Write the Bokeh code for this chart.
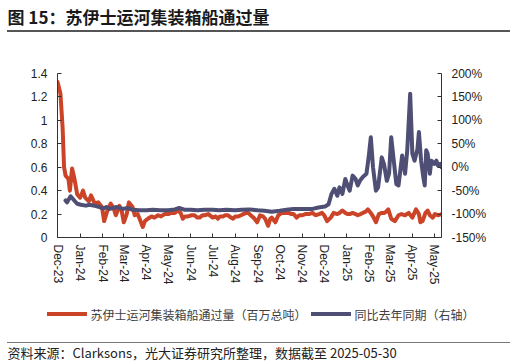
import pandas as pd
from datetime import datetime
from bokeh.plotting import figure
from bokeh.models import (ColumnDataSource, Range1d, LinearAxis, FixedTicker,
                          DatetimeTickFormatter, PrintfTickFormatter,
                          CustomJSTickFormatter, Title, InlineStyleSheet)
from bokeh.embed import file_html
from bokeh.resources import INLINE

# ---------------- data ----------------
title_text = "图 15：苏伊士运河集装箱船通过量"
source_text = "资料来源：Clarksons，光大证券研究所整理，数据截至 2025-05-30"
series_names = ["苏伊士运河集装箱船通过量（百万总吨）", "同比去年同期（右轴）"]

month_ticks = pd.date_range("2023-12-01", "2025-05-01", freq="MS")
left_ticks = [0, 0.2, 0.4, 0.6, 0.8, 1.0, 1.2, 1.4]
right_ticks = [-150, -100, -50, 0, 50, 100, 150, 200]

red_dates = [
    "2023-12-01", "2023-12-05", "2023-12-08", "2023-12-10", "2023-12-12", "2023-12-16",
    "2023-12-18", "2023-12-21", "2023-12-24", "2023-12-28", "2024-01-01", "2024-01-05",
    "2024-01-08", "2024-01-13", "2024-01-16", "2024-01-21", "2024-01-26", "2024-01-31",
    "2024-02-03", "2024-02-08", "2024-02-12", "2024-02-16", "2024-02-19", "2024-02-24",
    "2024-02-27", "2024-03-01", "2024-03-05", "2024-03-08", "2024-03-13", "2024-03-16",
    "2024-03-20", "2024-03-22", "2024-03-27", "2024-03-30", "2024-04-03", "2024-04-08",
    "2024-04-12", "2024-04-17", "2024-04-21", "2024-04-26", "2024-05-01", "2024-05-05",
    "2024-05-10", "2024-05-14", "2024-05-18", "2024-05-21", "2024-05-24", "2024-05-28",
    "2024-06-02", "2024-06-06", "2024-06-10", "2024-06-13", "2024-06-17", "2024-06-20",
    "2024-06-25", "2024-07-01", "2024-07-05", "2024-07-08", "2024-07-11", "2024-07-15",
    "2024-07-18", "2024-07-22", "2024-07-26", "2024-07-29", "2024-08-01", "2024-08-05",
    "2024-08-09", "2024-08-12", "2024-08-16", "2024-08-19", "2024-08-22", "2024-08-26",
    "2024-08-31", "2024-09-04", "2024-09-08", "2024-09-11", "2024-09-15", "2024-09-18",
    "2024-09-20", "2024-09-25", "2024-09-29", "2024-10-04", "2024-10-09", "2024-10-13",
    "2024-10-17", "2024-10-20", "2024-10-24", "2024-10-28", "2024-11-01", "2024-11-05",
    "2024-11-10", "2024-11-15", "2024-11-19", "2024-11-24", "2024-11-28", "2024-12-01",
    "2024-12-05", "2024-12-10", "2024-12-14", "2024-12-19", "2024-12-22", "2024-12-26",
    "2024-12-30", "2025-01-02", "2025-01-05", "2025-01-09", "2025-01-13", "2025-01-16",
    "2025-01-20", "2025-01-23", "2025-01-27", "2025-01-30", "2025-02-04", "2025-02-07",
    "2025-02-10", "2025-02-14", "2025-02-18", "2025-02-21", "2025-02-24", "2025-02-27",
    "2025-03-03", "2025-03-08", "2025-03-13", "2025-03-17", "2025-03-22", "2025-03-27",
    "2025-04-01", "2025-04-06", "2025-04-10", "2025-04-12", "2025-04-15", "2025-04-19",
    "2025-04-22", "2025-04-25", "2025-04-29", "2025-05-02", "2025-05-07", "2025-05-11",
]
red_values = [
    1.33, 1.23, 0.94, 0.60, 0.53, 0.50,
    0.40, 0.59, 0.51, 0.37, 0.34, 0.40,
    0.34, 0.31, 0.36, 0.29, 0.30, 0.26,
    0.14, 0.24, 0.29, 0.25, 0.19, 0.27,
    0.23, 0.13, 0.20, 0.30, 0.26, 0.19,
    0.20, 0.17, 0.09, 0.14, 0.16, 0.18,
    0.17, 0.19, 0.18, 0.20, 0.20, 0.21,
    0.21, 0.23, 0.21, 0.16, 0.18, 0.18,
    0.19, 0.19, 0.17, 0.17, 0.19, 0.19,
    0.20, 0.17, 0.18, 0.16, 0.18, 0.18,
    0.19, 0.19, 0.17, 0.16, 0.18, 0.18,
    0.19, 0.20, 0.21, 0.21, 0.19, 0.17,
    0.13, 0.19, 0.18, 0.16, 0.10, 0.16,
    0.17, 0.13, 0.19, 0.21, 0.21, 0.21,
    0.20, 0.20, 0.17, 0.19, 0.19, 0.20,
    0.20, 0.21, 0.19, 0.20, 0.21, 0.19,
    0.14, 0.17, 0.21, 0.20, 0.21, 0.23,
    0.21, 0.20, 0.20, 0.21, 0.20, 0.19,
    0.20, 0.21, 0.22, 0.24, 0.20, 0.17,
    0.13, 0.20, 0.21, 0.21, 0.22, 0.24,
    0.16, 0.14, 0.19, 0.20, 0.19, 0.21,
    0.17, 0.24, 0.20, 0.13, 0.14, 0.21,
    0.23, 0.19, 0.17, 0.20, 0.19, 0.20,
]

blue_dates = [
    "2023-12-12", "2023-12-14", "2023-12-19", "2023-12-24", "2023-12-28", "2024-01-02",
    "2024-01-09", "2024-01-14", "2024-01-23", "2024-02-02", "2024-02-06", "2024-02-11",
    "2024-02-20", "2024-02-29", "2024-03-06", "2024-03-13", "2024-03-22", "2024-04-01",
    "2024-04-10", "2024-04-20", "2024-05-01", "2024-05-10", "2024-05-16", "2024-05-24",
    "2024-06-01", "2024-06-10", "2024-06-20", "2024-07-01", "2024-07-10", "2024-07-20",
    "2024-08-01", "2024-08-10", "2024-08-20", "2024-09-01", "2024-09-10", "2024-09-20",
    "2024-10-01", "2024-10-13", "2024-10-20", "2024-11-01", "2024-11-15", "2024-11-23",
    "2024-12-02", "2024-12-07", "2024-12-11", "2024-12-15", "2024-12-19", "2024-12-22",
    "2024-12-26", "2024-12-30", "2025-01-02", "2025-01-05", "2025-01-09", "2025-01-13",
    "2025-01-16", "2025-01-19", "2025-01-23", "2025-01-28", "2025-01-31", "2025-02-03",
    "2025-02-06", "2025-02-10", "2025-02-13", "2025-02-18", "2025-02-21", "2025-02-25",
    "2025-02-28", "2025-03-03", "2025-03-06", "2025-03-10", "2025-03-13", "2025-03-18",
    "2025-03-22", "2025-03-25", "2025-03-29", "2025-04-01", "2025-04-04", "2025-04-08",
    "2025-04-10", "2025-04-13", "2025-04-16", "2025-04-18", "2025-04-20", "2025-04-22",
    "2025-04-25", "2025-04-27", "2025-05-01", "2025-05-04", "2025-05-06", "2025-05-09",
    "2025-05-11",
]
blue_values = [
    -71, -75, -62, -71, -78, -80,
    -82, -80, -83, -88, -85, -89,
    -85, -89, -87, -91, -92, -92,
    -91, -92, -92, -90, -87, -91,
    -91, -92, -91, -91, -92, -91,
    -92, -91, -90, -92, -93, -95,
    -93, -90, -89, -89, -89, -86,
    -84, -79, -57, -46, -61, -43,
    -57, -25, -39, -50, -18, -25,
    -39, -29, -21, -14, 21, 64,
    0, -50, -43, 21, 7, -29,
    -14, 64, 21, -36, -39, 25,
    -14, 36, 157, 29, 14, 39,
    75, 14, -21, -39, 36, 29,
    -14, 14, 7, 14, 4, 7,
    0,
]

# ---------------- styling ----------------
RED = "#CB4428"
BLUE = "#4F4F76"
AXIS_FONT = "Liberation Sans"
CJK_FONT = "Noto Sans CJK SC"
W, H = 516, 364
FL, FR, FT, FB = 57, 75, 73, 127

red_src = ColumnDataSource(dict(x=pd.to_datetime(red_dates), y=red_values))
blue_src = ColumnDataSource(dict(x=pd.to_datetime(blue_dates), y=blue_values))

# horizontal rules (title / source) and the two legend swatches
deco_css = InlineStyleSheet(css=f"""
:host::before {{ content: ""; position: absolute; left: 7px; width: 503px;
  top: 30px; height: 314px; z-index: 100; pointer-events: none;
  background: linear-gradient(to bottom, #555555 0px, #555555 2px,
    transparent 2px, transparent 312px, #777777 312px, #777777 313.5px,
    transparent 313.5px); }}
:host::after {{ content: ""; position: absolute; left: 47px; width: 304px;
  top: 311.5px; height: 4px; z-index: 100; pointer-events: none;
  background: linear-gradient({RED}, {RED}) 0px 0px / 40px 4px no-repeat,
              linear-gradient({BLUE}, {BLUE}) 264px 0px / 40px 4px no-repeat; }}
""")

p = figure(width=W, height=H, x_axis_type="datetime",
           x_range=Range1d(datetime(2023, 12, 1), datetime(2025, 5, 11)),
           y_range=Range1d(0, 1.4),
           min_border_left=FL, min_border_right=FR, min_border_top=FT,
           min_border_bottom=FB,
           output_backend="svg", toolbar_location=None,
           stylesheets=[deco_css])
p.extra_y_ranges = {"right": Range1d(-150, 200)}
p.grid.visible = False
p.outline_line_color = None

p.line("x", "y", source=red_src, line_color=RED, line_width=4,
       line_join="round", line_cap="round")
p.line("x", "y", source=blue_src, y_range_name="right", line_color=BLUE,
       line_width=4, line_join="round", line_cap="round")

right_axis = LinearAxis(y_range_name="right")
p.add_layout(right_axis, "right")

xa = p.xaxis[0]
xa.ticker = FixedTicker(ticks=[int(d.value // 10**6) for d in month_ticks])
xa.formatter = DatetimeTickFormatter(days="%b-%y", months="%b-%y", years="%b-%y",
                                     hours="%b-%y", hourmin="%b-%y")
xa.major_label_orientation = "vertical"
xa.major_label_standoff = 7

ya = p.yaxis[0]
ya.ticker = FixedTicker(ticks=left_ticks)
ya.formatter = CustomJSTickFormatter(code="return String(Math.round(tick*10)/10);")
ya.major_label_standoff = 10

right_axis.ticker = FixedTicker(ticks=right_ticks)
right_axis.formatter = PrintfTickFormatter(format="%d%%")
right_axis.major_label_standoff = 10

for ax in (xa, ya, right_axis):
    ax.major_tick_in = 4
    ax.major_tick_out = 0
    ax.minor_tick_line_color = None
    ax.axis_line_color = "#333333"
    ax.major_tick_line_color = "#333333"
    ax.axis_line_width = 1
    ax.major_label_text_font = AXIS_FONT
    ax.major_label_text_font_size = "12px"
    ax.major_label_text_color = "#222222"

# ---------------- title (above) ----------------
p.add_layout(Title(text="\u200b", text_font_size="1px", standoff=42), "above")
p.title.text = title_text
p.title.align = "left"
p.title.offset = 7 - FL
p.title.text_font = CJK_FONT
p.title.text_font_size = "17px"
p.title.text_font_style = "bold"
p.title.text_color = "#1a1a1a"
p.title.standoff = 0
p.title.vertical_align = "bottom"

# ---------------- legend labels (below) ----------------
legend_text = series_names[0] + "\u3000" * 4 + "\u2002" + series_names[1]
p.add_layout(Title(text=legend_text, align="left", offset=90 - FL,
                   text_font=CJK_FONT, text_font_size="12px",
                   text_font_style="normal", text_color="#404040",
                   standoff=34, vertical_align="middle"), "below")

# ---------------- source (below) ----------------
p.add_layout(Title(text=source_text, align="left", offset=7 - FL,
                   text_font=CJK_FONT, text_font_size="13px",
                   text_font_style="normal", text_color="#222222",
                   standoff=0, vertical_align="bottom"), "below")

open("out.html", "w").write(file_html(p, INLINE))
